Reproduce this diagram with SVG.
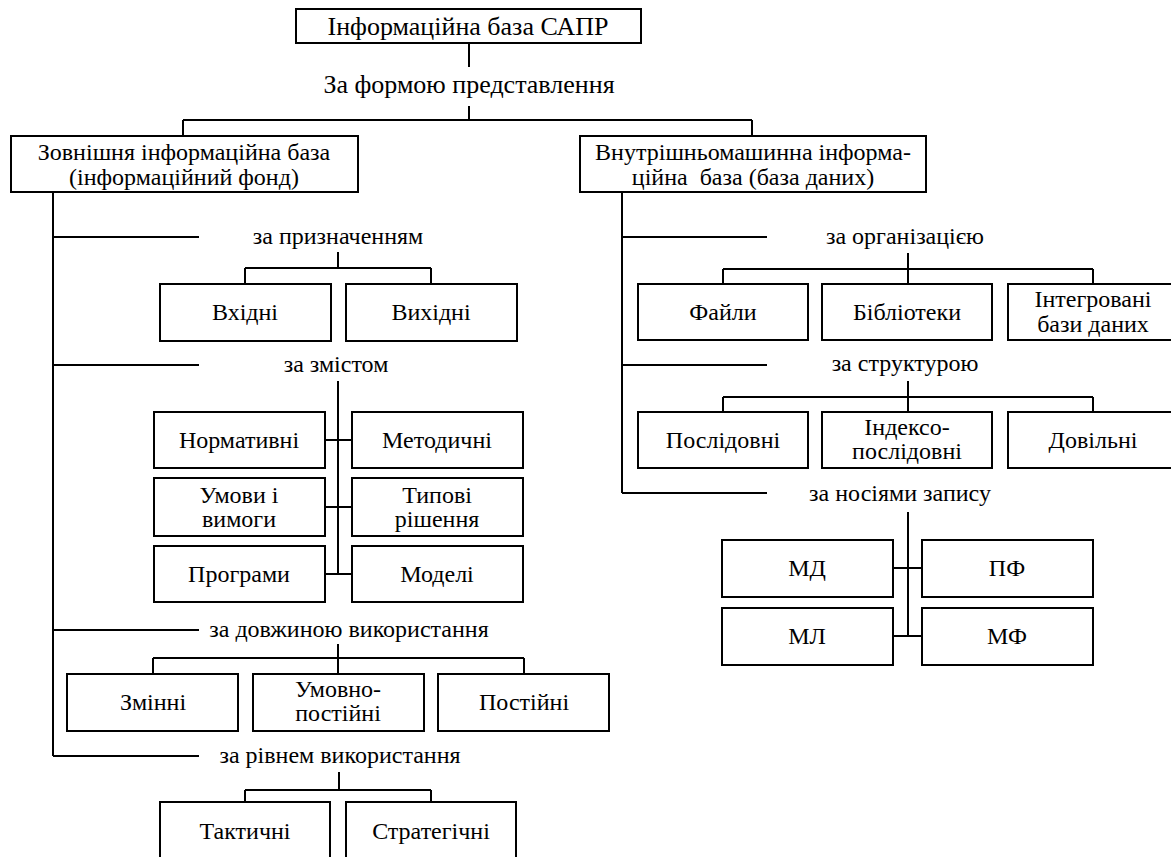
<svg xmlns="http://www.w3.org/2000/svg" width="1171" height="857" viewBox="0 0 1171 857">
  <style>
    .box { fill: #fff; stroke: #000; stroke-width: 2; shape-rendering: crispEdges; }
    .ln { fill: none; stroke: #000; stroke-width: 2; shape-rendering: crispEdges; }
    .t { font-size: 24px; fill: #000; text-anchor: middle; }
    .big { font-size: 26px; }
  </style>
  <rect width="1171" height="857" fill="#fff"/>

  <!-- connectors -->
  <g id="connectors" class="ln">
    <!-- root to first level -->
    <path d="M469 43V67M469 106V120M183 120H752M183 120V136M752 120V136"/>
    <!-- left trunk and its branches -->
    <path d="M53 192V756M53 237H199M53 365H199M53 630H199M53 756H199"/>
    <!-- за призначенням -->
    <path d="M338 252V268M245 268H431M245 268V284M431 268V284"/>
    <!-- за змістом -->
    <path d="M338 381V574M325 440H352M325 507H352M325 574H352"/>
    <!-- за довжиною використання -->
    <path d="M338 644V674M153 658H524M153 658V674M524 658V674"/>
    <!-- за рівнем використання -->
    <path d="M339 772V790M245 790H431M245 790V802M431 790V802"/>
    <!-- right trunk and its branches -->
    <path d="M622 192V493M622 237H767M622 365H767M622 493H767"/>
    <!-- за організацією -->
    <path d="M908 253V284M723 269H1093M723 269V284M1093 269V284"/>
    <!-- за структурою -->
    <path d="M908 381V412M723 397H1093M723 397V412M1093 397V412"/>
    <!-- за носіями запису -->
    <path d="M908 512V636M893 568H922M893 636H922"/>
  </g>

  <g font-family="Liberation Serif, Times New Roman, serif">
  <!-- category labels -->
  <g id="labels" class="t">
    <text class="big" x="469" y="93">За формою представлення</text>
    <text x="338" y="244">за призначенням</text>
    <text x="336" y="372">за змістом</text>
    <text x="349" y="637">за довжиною використання</text>
    <text x="340" y="763">за рівнем використання</text>
    <text x="905" y="244">за організацією</text>
    <text x="905" y="371">за структурою</text>
    <text x="900" y="501">за носіями запису</text>
  </g>

  <g id="root" class="t">
    <rect class="box" x="296" y="9" width="345" height="34"/>
    <text class="big" x="468" y="35">Інформаційна база САПР</text>
  </g>

  <g id="external-base" class="t">
    <rect class="box" x="11" y="136" width="347" height="56"/>
    <text x="184" y="160">Зовнішня інформаційна база</text>
    <text x="184" y="185">(інформаційний фонд)</text>
  </g>

  <g id="internal-base" class="t">
    <rect class="box" x="580" y="136" width="346" height="56"/>
    <text x="753" y="160">Внутрішньомашинна інформа-</text>
    <text x="753" y="185" xml:space="preserve">ційна  база (база даних)</text>
  </g>

  <!-- за призначенням -->
  <g id="input" class="t">
    <rect class="box" x="160" y="284" width="171" height="57"/>
    <text x="245" y="320">Вхідні</text>
  </g>
  <g id="output" class="t">
    <rect class="box" x="346" y="284" width="171" height="57"/>
    <text x="431" y="320">Вихідні</text>
  </g>

  <!-- за змістом -->
  <g id="normative" class="t">
    <rect class="box" x="154" y="412" width="171" height="56"/>
    <text x="239" y="448">Нормативні</text>
  </g>
  <g id="methodical" class="t">
    <rect class="box" x="352" y="412" width="171" height="56"/>
    <text x="437" y="448">Методичні</text>
  </g>
  <g id="conditions" class="t">
    <rect class="box" x="154" y="478" width="171" height="58"/>
    <text x="239" y="503">Умови і</text>
    <text x="239" y="527">вимоги</text>
  </g>
  <g id="typical" class="t">
    <rect class="box" x="352" y="478" width="171" height="58"/>
    <text x="437" y="503">Типові</text>
    <text x="437" y="527">рішення</text>
  </g>
  <g id="programs" class="t">
    <rect class="box" x="154" y="546" width="171" height="56"/>
    <text x="239" y="582">Програми</text>
  </g>
  <g id="models" class="t">
    <rect class="box" x="352" y="546" width="171" height="56"/>
    <text x="437" y="582">Моделі</text>
  </g>

  <!-- за довжиною використання -->
  <g id="variable" class="t">
    <rect class="box" x="67" y="674" width="171" height="57"/>
    <text x="153" y="710">Змінні</text>
  </g>
  <g id="semi-constant" class="t">
    <rect class="box" x="253" y="674" width="171" height="57"/>
    <text x="338" y="697">Умовно-</text>
    <text x="338" y="721">постійні</text>
  </g>
  <g id="constant" class="t">
    <rect class="box" x="438" y="674" width="171" height="57"/>
    <text x="524" y="710">Постійні</text>
  </g>

  <!-- за рівнем використання -->
  <g id="tactical" class="t">
    <rect class="box" x="160" y="802" width="170" height="62"/>
    <text x="245" y="839">Тактичні</text>
  </g>
  <g id="strategic" class="t">
    <rect class="box" x="346" y="802" width="170" height="62"/>
    <text x="431" y="839">Стратегічні</text>
  </g>

  <!-- за організацією -->
  <g id="files" class="t">
    <rect class="box" x="638" y="284" width="170" height="56"/>
    <text x="723" y="320">Файли</text>
  </g>
  <g id="libraries" class="t">
    <rect class="box" x="822" y="284" width="170" height="56"/>
    <text x="907" y="320">Бібліотеки</text>
  </g>
  <g id="integrated-db" class="t">
    <rect class="box" x="1008" y="284" width="172" height="56"/>
    <text x="1093" y="307">Інтегровані</text>
    <text x="1093" y="332">бази даних</text>
  </g>

  <!-- за структурою -->
  <g id="sequential" class="t">
    <rect class="box" x="638" y="412" width="170" height="56"/>
    <text x="723" y="448">Послідовні</text>
  </g>
  <g id="index-sequential" class="t">
    <rect class="box" x="822" y="412" width="170" height="56"/>
    <text x="907" y="435">Індексо-</text>
    <text x="907" y="459">послідовні</text>
  </g>
  <g id="random" class="t">
    <rect class="box" x="1008" y="412" width="172" height="56"/>
    <text x="1093" y="448">Довільні</text>
  </g>

  <!-- за носіями запису -->
  <g id="md" class="t">
    <rect class="box" x="722" y="540" width="171" height="57"/>
    <text x="807" y="576">МД</text>
  </g>
  <g id="pf" class="t">
    <rect class="box" x="922" y="540" width="171" height="57"/>
    <text x="1007" y="576">ПФ</text>
  </g>
  <g id="ml" class="t">
    <rect class="box" x="722" y="608" width="171" height="57"/>
    <text x="807" y="644">МЛ</text>
  </g>
  <g id="mf" class="t">
    <rect class="box" x="922" y="608" width="171" height="57"/>
    <text x="1007" y="644">МФ</text>
  </g>
  </g>
</svg>
